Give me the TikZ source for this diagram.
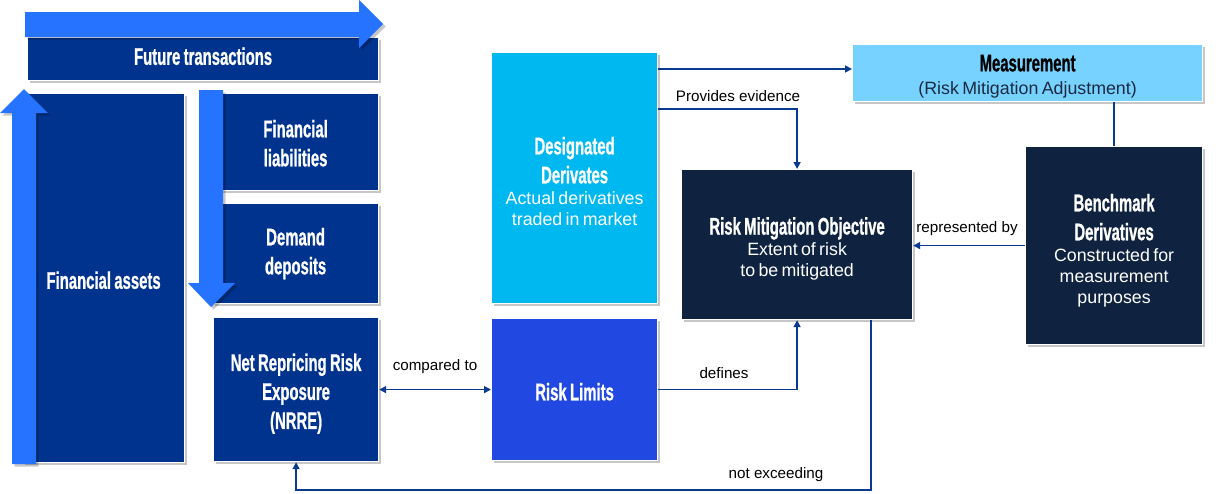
\documentclass[tikz,border=0pt]{standalone}
\usepackage{fontspec}
\setmainfont{Liberation Sans}
\newfontfamily\condfont{Liberation Sans}[FakeStretch=0.62,FakeBold=0.8]
\usetikzlibrary{shadows,arrows.meta}
\definecolor{navy}{HTML}{00338D}
\definecolor{arrowblue}{HTML}{2673FF}
\definecolor{cyanbox}{HTML}{00B8F0}
\definecolor{limitblue}{HTML}{2148E0}
\definecolor{darknavy}{HTML}{0F2340}
\definecolor{measblue}{HTML}{78D2FF}
\definecolor{connblue}{HTML}{0A3A8F}
\definecolor{meastext}{HTML}{1A2A40}
\newcommand\ttl{\condfont\bfseries\fontsize{24}{29}\selectfont}
\newcommand\bdy{\normalfont\fontsize{17.8}{21}\selectfont}
\newcommand\lblfont{\fontsize{15.2}{17}\selectfont}
% push the first line down by enlarging its height
\newcommand\tpad[1]{\rule{0pt}{#1}}
\begin{document}
\begin{tikzpicture}[x=1pt,y=-1pt,
  shad/.style={drop shadow={shadow xshift=2.5pt,shadow yshift=-2.5pt,fill=black,opacity=0.22}},
  box/.style={draw=white,line width=1.2pt,inner sep=0pt,align=center,anchor=north west,text=white,shad},
  bigarrow/.style={fill=arrowblue,shad},
  conn/.style={draw=connblue,line width=1.6pt,-{Triangle[length=7pt,width=7pt]}},
  lbl/.style={font=\lblfont,text=black,inner sep=1pt}]
\useasboundingbox (0,0) rectangle (1216,493);
% left block
\node[box,fill=navy,text width=351pt,minimum height=43pt] (fut) at (27,37) {\ttl Future transactions\rule[-6pt]{0pt}{6pt}\par};
\fill[bigarrow] (25,12) -- (359,12) -- (359,0) -- (383,24) -- (359,48) -- (359,37) -- (25,37) -- cycle;
\node[box,fill=navy,text width=162pt,minimum height=369pt] (fa) at (22,93) {\ttl\tpad{21.6pt}Financial assets\par};
\fill[bigarrow] (12,464) -- (12,113) -- (0,113) -- (24,89) -- (48,113) -- (36,113) -- (36,464) -- cycle;
\node[box,fill=navy,text width=166pt,minimum height=97pt] (fl) at (212,93) {\ttl\tpad{19.6pt}Financial\\liabilities\par};
\node[box,fill=navy,text width=166pt,minimum height=100pt] (dep) at (212,203) {\ttl Demand\\deposits\par};
\fill[bigarrow] (199,90) -- (223,90) -- (223,283) -- (235,283) -- (211,307) -- (188,283) -- (199,283) -- cycle;
\node[box,fill=navy,text width=165pt,minimum height=144pt] (nrre) at (213,317) {\ttl\tpad{25.6pt}Net Repricing Risk\\Exposure\\(NRRE)\par};
% middle
\node[box,fill=cyanbox,text width=166pt,minimum height=251pt] (dd) at (491,52) {{\ttl\tpad{23.6pt}Designated\\Derivates\par}{\bdy Actual derivatives\\traded in market\par}};
\node[box,fill=limitblue,text width=166pt,minimum height=142pt] (rl) at (491,318) {\ttl\tpad{21.6pt}Risk Limits\par};
\node[box,fill=darknavy,text width=231pt,minimum height=150pt] (rmo) at (681,169) {{\ttl\tpad{25.6pt}Risk Mitigation Objective\par}{\bdy Extent of risk\\to be mitigated\par}};
% right
\node[box,fill=measblue,text width=350pt,minimum height=57pt] (meas) at (852,44) {{\ttl\color{black}\tpad{23.2pt}Measurement\par}\vspace{2pt}{\bdy\color{meastext} (Risk Mitigation Adjustment)\par}};
\node[box,fill=darknavy,text width=177pt,minimum height=198pt] (bench) at (1025,146) {{\ttl\tpad{27pt}Benchmark\\Derivatives\par}{\bdy Constructed for\\measurement\\purposes\par}};
% connectors
\draw[conn] ([yshift=-17pt]dd.north east) coordinate (s1) -- (s1 -| meas.west);
\draw[conn] ([yshift=-57pt]dd.north east) -| (rmo.north);
\draw[conn] (rl.east) -| (rmo.south);
\draw[conn] (bench.west) -- (rmo.east |- bench.west);
\draw[conn,-] (bench.north) -- (bench.north |- meas.south);
\draw[conn,{Triangle[length=7pt,width=7pt]}-{Triangle[length=7pt,width=7pt]}] (nrre.east) -- (rl.west);
\draw[conn] ([xshift=-42pt]rmo.south east) -- ++(0,170) -| (nrre.south);
% labels
\node[lbl] (lpe) at (738,96) {Provides evidence};
\node[lbl] (lct) at (435,367) {compared to};
\node[lbl] (ldf) at (724,373) {defines};
\node[lbl] (lrb) at (967,229) {represented by};
\node[lbl] (lne) at (776,475) {not exceeding};
\end{tikzpicture}
\end{document}
